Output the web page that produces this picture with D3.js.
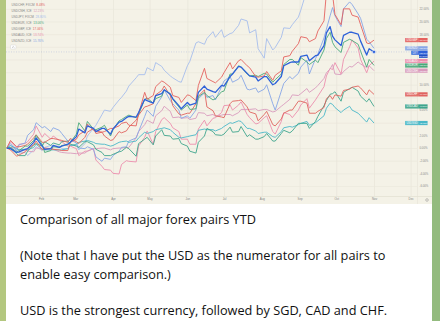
<!DOCTYPE html>
<html>
<head>
<meta charset="utf-8">
<script src="https://cdnjs.cloudflare.com/ajax/libs/d3/7.8.5/d3.min.js"></script>
<style>
  html, body { margin: 0; padding: 0; background: #a9c47c; }
  svg { display: block; }
</style>
</head>
<body>
<div id="chart"></div>
<script>
// twice-weekly closes, % change since first bar of the year
var dates = ["2022-01-04","2022-01-07","2022-01-12","2022-01-14","2022-01-19","2022-01-21","2022-01-26","2022-01-28",
  "2022-02-02","2022-02-04","2022-02-09","2022-02-11","2022-02-16","2022-02-18","2022-02-23","2022-02-25",
  "2022-03-02","2022-03-04","2022-03-09","2022-03-11","2022-03-16","2022-03-18","2022-03-23","2022-03-25","2022-03-30",
  "2022-04-01","2022-04-06","2022-04-08","2022-04-12","2022-04-14","2022-04-20","2022-04-22","2022-04-27","2022-04-29",
  "2022-05-04","2022-05-06","2022-05-11","2022-05-13","2022-05-18","2022-05-20","2022-05-25","2022-05-27",
  "2022-06-01","2022-06-03","2022-06-08","2022-06-10","2022-06-15","2022-06-17","2022-06-22","2022-06-24","2022-06-29",
  "2022-07-01","2022-07-06","2022-07-08","2022-07-13","2022-07-15","2022-07-20","2022-07-22","2022-07-27","2022-07-29",
  "2022-08-03","2022-08-05","2022-08-10","2022-08-12","2022-08-17","2022-08-19","2022-08-24","2022-08-26","2022-08-31",
  "2022-09-02","2022-09-07","2022-09-09","2022-09-14","2022-09-16","2022-09-21","2022-09-23","2022-09-26","2022-09-28","2022-09-30",
  "2022-10-05","2022-10-07","2022-10-12","2022-10-14","2022-10-19","2022-10-21","2022-10-26","2022-10-28","2022-11-01"];

var dxy = [0,-0.1,-0.7,-0.6,-0.2,-0.1,0.9,1.6,
  0.3,-0.2,-0.1,0.4,0.1,0.3,0.6,0.9,
  1.8,3.0,2.4,3.5,3.1,2.6,3.1,3.1,2.2,
  3.0,4.1,4.2,4.8,5.0,4.9,5.6,7.7,7.5,
  7.1,8.3,8.6,9.2,8.5,7.8,6.7,6.2,
  7.2,6.8,7.1,8.8,9.8,9.3,8.9,8.8,9.9,
  9.8,11.3,11.7,12.9,12.8,11.8,11.4,11.2,10.6,
  11.3,11.3,10.0,10.2,11.3,13.0,13.5,13.6,13.6,
  14.5,14.7,13.8,14.6,14.7,16.2,18.2,19.2,17.7,17.1,
  16.2,17.8,18.3,18.3,18.0,16.9,14.7,15.7,15.19];
var usdjpy = [0,0.4,-0.4,-0.8,-0.7,-1.2,-0.3,0.2,
  -0.4,0.1,0.4,0.3,0.3,-0.1,-0.1,0.4,
  0.4,-0.3,0.7,1.9,3.1,3.6,5.3,6.0,5.8,
  6.4,7.6,8.0,9.0,9.8,11.1,11.6,11.6,12.7,
  12.2,13.5,12.9,12.3,11.4,11.1,10.5,10.4,
  13.0,13.7,16.6,16.8,16.4,17.3,18.4,17.5,18.7,
  17.5,18.1,18.2,19.4,20.4,20.1,18.2,18.7,15.7,
  14.2,17.3,15.5,15.9,17.5,19.0,18.9,19.5,20.7,
  21.8,25.0,23.9,24.4,24.2,25.3,24.6,25.7,25.3,25.7,
  25.7,26.2,27.7,29.2,30.2,28.2,27.1,28.1,28.8];
var usdnzd = [0,0.7,-0.4,0.5,0.8,2.0,2.9,4.0,
  3.2,3.4,2.6,3.2,2.8,2.3,1.1,1.3,
  0.8,0.0,-0.1,0.2,-0.2,-1.4,-2.1,-1.6,-1.8,
  -1.2,-0.5,0.1,0.2,1.1,1.6,2.6,5.0,6.0,
  5.0,6.6,8.1,9.2,7.5,7.0,6.0,4.7,
  5.1,4.7,6.0,7.8,8.7,8.0,8.3,7.6,9.7,
  10.6,11.3,10.4,10.9,11.5,9.3,9.2,9.5,8.8,
  9.3,10.0,7.0,6.0,9.0,10.2,11.3,10.9,11.8,
  12.8,13.9,11.7,14.1,14.9,17.4,18.8,20.9,22.2,20.9,
  19.2,22.0,23.1,22.7,21.2,20.5,17.2,16.8,15.76];
var usdgbp = [0,-0.3,-1.3,-1.1,-0.6,-0.1,0.5,1.1,
  -0.3,0.0,-0.1,-0.2,-0.3,-0.4,-0.4,0.9,
  1.4,2.1,2.7,3.8,2.8,2.7,2.5,2.6,3.1,
  3.1,3.5,3.9,4.1,3.6,3.5,5.4,8.8,7.7,
  8.3,9.7,10.6,10.4,9.6,8.3,8.0,7.2,
  8.4,8.3,7.5,9.9,12.6,11.0,10.5,10.3,11.2,
  11.9,13.5,12.5,13.8,14.0,13.0,12.7,11.3,11.2,
  11.4,12.1,10.7,11.5,12.2,14.4,14.6,15.3,16.5,
  17.6,17.4,16.8,17.3,18.5,20.1,24.6,26.6,24.3,21.1,
  19.5,22.0,22.0,21.0,20.7,19.5,16.6,16.5,17.06];
var usdeur = [0,0.1,-0.6,-0.4,0.3,0.3,1.2,2.0,
  0.6,-0.7,-0.4,0.2,0.1,0.4,0.5,0.9,
  2.2,4.0,2.7,4.2,3.0,2.9,3.3,3.6,1.9,
  2.9,4.3,4.5,5.0,5.2,4.8,5.3,7.7,7.9,
  7.1,7.8,8.2,9.2,8.6,7.7,6.5,6.0,
  6.8,6.1,6.2,8.1,8.8,8.3,7.6,7.8,8.9,
  9.0,11.7,11.7,13.0,12.8,11.7,11.4,11.5,11.3,
  11.8,11.7,10.4,10.8,11.7,13.2,14.0,14.0,13.1,
  14.3,13.6,13.2,13.9,13.5,15.5,17.3,18.3,16.7,16.0,
  15.1,16.7,17.2,17.0,16.4,15.3,12.8,14.0,13.06];
var usdaud = [0,1.0,0.0,0.6,0.7,1.0,2.2,3.5,
  1.7,2.3,1.4,1.9,1.2,1.0,0.3,0.3,
  -0.1,-1.2,-0.5,-0.5,-0.1,-1.9,-2.9,-3.4,-3.5,
  -4.0,-4.1,-2.6,-2.0,-2.1,-2.2,0.3,1.7,2.7,
  0.6,2.6,4.5,4.8,3.9,3.2,2.6,1.4,
  1.4,0.6,0.6,3.0,4.4,3.5,4.7,4.8,5.6,
  6.7,6.8,6.0,6.8,7.3,5.3,4.8,3.8,3.9,
  4.8,5.1,2.6,2.2,4.2,5.6,5.3,4.8,6.0,
  6.8,7.8,6.3,7.6,8.2,9.7,11.4,12.6,12.4,13.5,
  11.7,14.0,16.0,17.1,15.8,14.0,11.9,13.0,13.74];
var usdcnh = [0,0.1,0.0,-0.3,-0.3,-0.5,-0.6,0.0,
  -0.1,-0.1,-0.2,-0.2,-0.6,-0.7,-0.8,-0.8,
  -0.9,-0.8,-0.8,-0.5,-0.1,-0.1,0.0,0.0,-0.3,
  -0.1,0.0,0.0,0.1,0.1,1.6,2.6,3.7,4.4,
  3.9,5.1,5.9,6.6,5.8,4.8,4.9,4.7,
  4.8,4.5,4.7,5.6,5.5,5.1,5.3,5.0,5.2,
  5.3,5.3,5.1,5.6,6.1,6.1,6.1,6.2,5.9,
  6.1,6.1,5.7,5.8,6.6,6.9,7.7,8.4,8.3,
  8.6,9.4,8.8,9.5,9.9,11.0,11.9,12.5,13.2,11.7,
  11.6,12.1,12.9,12.8,13.6,13.3,12.7,13.0,12.23];
var usdchf = [0,1.2,0.2,0.2,0.4,0.6,1.6,2.1,
  0.9,0.9,1.5,1.5,1.3,1.2,0.9,1.5,
  1.0,0.7,1.7,2.5,3.1,2.3,2.5,1.9,1.2,
  1.3,2.6,2.4,2.7,3.3,4.4,5.2,6.5,6.6,
  7.0,8.4,9.1,9.8,8.3,6.7,5.4,5.2,
  5.5,5.5,7.0,8.2,9.2,6.5,5.9,5.1,4.9,
  4.8,7.0,7.4,7.5,7.6,6.5,5.7,5.4,4.3,
  5.3,5.8,3.7,3.5,4.6,5.5,6.0,6.0,7.4,
  7.4,7.1,5.5,5.5,5.8,6.4,7.8,8.3,7.7,8.4,
  8.2,9.1,9.3,9.6,9.8,9.5,8.4,9.2,8.48];
var usdcad = [0,0.0,-0.9,-1.2,-1.2,-0.5,0.5,0.7,
  0.3,1.0,0.4,0.8,0.5,1.0,1.1,0.6,
  0.3,0.1,1.0,1.0,0.5,-0.2,-0.7,-1.2,-1.2,
  -1.0,-0.6,-0.5,0.1,-0.1,-1.3,0.7,1.4,1.7,
  0.5,1.9,2.9,2.0,1.9,1.4,1.5,0.7,
  0.3,-0.5,-0.8,0.9,1.9,3.1,2.6,2.1,2.0,
  2.2,3.3,2.5,2.6,3.4,1.8,2.1,1.4,1.4,
  1.8,2.3,1.1,1.1,2.3,2.8,2.4,2.7,3.9,
  3.9,3.9,3.1,4.2,5.0,6.7,7.5,8.5,8.6,8.9,
  7.4,8.8,9.4,9.6,9.0,8.2,7.3,7.8,6.57];
var usdsgd = [0,0.4,-0.1,-0.3,-0.2,-0.3,0.1,0.6,
  -0.2,-0.3,-0.3,-0.3,-0.3,-0.3,-0.1,0.4,
  0.6,0.9,1.1,1.2,0.9,0.7,0.6,0.6,0.3,
  0.4,0.9,1.0,1.1,0.9,1.1,1.6,2.5,2.3,
  2.6,2.9,3.1,3.2,2.9,2.5,1.7,1.6,
  1.8,1.9,2.1,2.8,3.0,2.9,2.9,2.7,3.1,
  3.4,4.0,3.9,4.3,4.2,3.1,3.1,2.7,2.3,
  2.5,2.5,1.8,1.7,2.6,3.2,3.4,3.3,3.7,
  3.9,4.2,3.6,4.0,4.3,5.1,6.3,7.1,6.9,6.4,
  5.6,6.0,6.6,6.0,5.5,5.1,4.1,4.8,3.95];

var pairNames  = ["USDJPY","USDAUD","USDCNH","USDNZD","USDSGD","USDCAD","USDCHF","USDEUR","USDGBP","DXY"];
var pairValues = [usdjpy, usdaud, usdcnh, usdnzd, usdsgd, usdcad, usdchf, usdeur, usdgbp, dxy];
var pairColors = ["#a6bdec","#ec8fae","#d99bbd","#87a6e6","#49b8c8","#3ea58c","#e0635f","#4aa97a","#e4625f","#2e62d9"];

var legendNames = ["USDCHF, FXCM","USDCNH, ICE","USDJPY, FXCM","USDEUR, ICE","USDGBP, ICE","USDAUD, ICE","USDNZD, ICE"];
var monthLabels = ["Feb","Mar","Apr","May","Jun","Jul","Aug","Sep","Oct","Nov","Dec"];
var percentTicks = [-6,-4,-2,0,2,4,6,8,10,12,14,16,18,20,22];

var captionLines = ["Comparison of all major forex pairs YTD",
  "",
  "(Note that I have put the USD as the numerator for all pairs to",
  "enable easy comparison.)",
  "",
  "USD is the strongest currency, followed by SGD, CAD and CHF."];

function init(){

    var W = 440, H = 321;
    var plotRight = 417, plotBottom = 196, chartBottom = 204;

    var parse = d3.timeParse("%Y-%m-%d");
    var days = dates.map(parse);

    var x = d3.scaleTime()
              .domain([new Date(2022,0,1), new Date(2022,11,1)])
              .range([3.2, 410.6]);
    var y = d3.scaleLinear()
              .domain([-7, 23.4])
              .range([192.3, 0]);

    var svg = d3.select("#chart")
                .append("svg")
                .attr("width", W)
                .attr("height", H);

    // wallpaper strips + message bubble
    svg.append("rect").attr("x",0).attr("y",0).attr("width",W).attr("height",H).attr("fill","#a9c47c");
    svg.append("rect").attr("x",0).attr("y",0).attr("width",6).attr("height",H).attr("fill","#b3c77f");
    svg.append("rect").attr("x",432).attr("y",0).attr("width",8).attr("height",H).attr("fill","#93bb7e");
    svg.append("rect").attr("x",6).attr("y",0).attr("width",426).attr("height",H).attr("fill","#ffffff");
    svg.append("rect").attr("x",6).attr("y",0).attr("width",426).attr("height",chartBottom).attr("fill","#f4f2e7");

    svg.append("clipPath").attr("id","plotclip")
       .append("rect").attr("x",6).attr("y",0).attr("width",plotRight-6).attr("height",plotBottom);

    // grid
    var monthTicks = d3.range(1,12).map(function(m){ return new Date(2022,m,1); });
    svg.append("g")
       .attr("class","xgrid")
       .attr("transform","translate(0," + plotBottom + ")")
       .call(d3.axisBottom(x).tickValues(monthTicks).tickSize(-plotBottom).tickFormat(""))
       .call(function(g){ g.select(".domain").remove(); })
       .selectAll("line").attr("stroke","#e6e3d6").attr("stroke-width",0.6);

    svg.append("g")
       .attr("class","ygrid")
       .attr("transform","translate(" + plotRight + ",0)")
       .call(d3.axisLeft(y).tickValues(percentTicks).tickSize(plotRight-6).tickFormat(""))
       .call(function(g){ g.select(".domain").remove(); })
       .selectAll("line").attr("stroke","#e9e6da").attr("stroke-width",0.6);

    svg.append("line").attr("x1",6).attr("x2",432).attr("y1",plotBottom+0.5).attr("y2",plotBottom+0.5)
       .attr("stroke","#dedbcd").attr("stroke-width",0.6);
    svg.append("line").attr("x1",plotRight+0.5).attr("x2",plotRight+0.5).attr("y1",0).attr("y2",chartBottom)
       .attr("stroke","#e4e1d4").attr("stroke-width",0.5);

    // lines
    var line = d3.line()
                 .x(function(d, i){ return x(days[i]); })
                 .y(function(d){ return y(d); });

    var plot = svg.append("g").attr("clip-path","url(#plotclip)");

    var last = pairValues.length - 1;
    plot.append("line")
        .attr("x1",6).attr("x2",plotRight)
        .attr("y1",y(dxy[dxy.length-1])).attr("y2",y(dxy[dxy.length-1]))
        .attr("stroke","#7f98d8").attr("stroke-width",0.5).attr("stroke-dasharray","1,1.5")
        .attr("opacity",0.6);

    plot.selectAll("path.pair")
        .data(pairValues)
        .enter()
        .append("path")
        .attr("class","pair")
        .attr("d", line)
        .attr("fill","none")
        .attr("stroke", function(d, i){ return pairColors[i]; })
        .attr("stroke-width", function(d, i){ return i == last ? 1.3 : 0.9; })
        .attr("stroke-linejoin","round");

    plot.append("circle")
        .attr("cx", x(days[days.length-1]))
        .attr("cy", y(dxy[dxy.length-1]))
        .attr("r", 1.6)
        .attr("fill", pairColors[last])
        .attr("stroke","#ffffff").attr("stroke-width",0.5);

    // end-of-line tags (skip series that run off the top)
    var tags = [];
    pairValues.forEach(function(v, i){
        var end = v[v.length-1];
        if (end < y.domain()[1]) {
            tags.push({name: pairNames[i], value: end, color: pairColors[i], ty: y(end)});
        }
    });
    tags.sort(function(a, b){ return a.ty - b.ty; });
    for (var k = 1; k < tags.length; k++) {
        if (tags[k].ty - tags[k-1].ty < 4.4) tags[k].ty = tags[k-1].ty + 4.4;
    }

    // price scale labels, hidden where a tag sits on top
    var yAxis = svg.append("g")
       .attr("transform","translate(419.5,0)")
       .call(d3.axisRight(y).tickValues(percentTicks).tickSize(0)
             .tickFormat(function(d){ return d.toFixed(2) + "%"; }));
    yAxis.select(".domain").remove();
    yAxis.selectAll("text")
         .attr("x",0)
         .attr("font-family","Liberation Sans, Arial, sans-serif")
         .attr("font-size","2.8px")
         .attr("fill","#8a8a8a")
         .attr("text-anchor","start")
         .style("display", function(d){
             var yy = y(d);
             var hit = tags.some(function(t){ return Math.abs(t.ty - yy) < 3.4; });
             return hit ? "none" : null;
         });

    var tagG = svg.selectAll("g.tag")
                  .data(tags)
                  .enter()
                  .append("g")
                  .attr("class","tag")
                  .attr("transform", function(d){ return "translate(0," + d.ty + ")"; });

    tagG.append("rect")
        .attr("x", function(d){ return 419 - (d.name.length*2.05 + 1.6); })
        .attr("y", -2.1)
        .attr("width", function(d){ return d.name.length*2.05 + 1.6; })
        .attr("height", 4.2)
        .attr("fill", function(d){ return d.color; })
        .attr("opacity", 0.9);
    tagG.append("rect")
        .attr("x", 419)
        .attr("y", -2.1)
        .attr("width", 8.6)
        .attr("height", 4.2)
        .attr("fill", function(d){ return d.color; });
    tagG.append("text")
        .attr("x", function(d){ return 419 - (d.name.length*2.05 + 1.6)/2; })
        .attr("y", 0.9)
        .attr("text-anchor","middle")
        .attr("font-family","Liberation Sans, Arial, sans-serif")
        .attr("font-size","2.6px")
        .attr("fill","#ffffff")
        .text(function(d){ return d.name; });
    tagG.append("text")
        .attr("x", 423.3)
        .attr("y", 0.9)
        .attr("text-anchor","middle")
        .attr("font-family","Liberation Sans, Arial, sans-serif")
        .attr("font-size","2.4px")
        .attr("fill","#ffffff")
        .text(function(d){ return "+" + d.value.toFixed(2) + "%"; });

    // DXY countdown strip under its price tag
    var dxyTag = tags.filter(function(t){ return t.name == "DXY"; })[0];
    svg.append("rect").attr("x",419).attr("y",dxyTag.ty+2.1).attr("width",8.6).attr("height",3)
       .attr("fill","#1f4fc4");
    svg.append("text").attr("x",423.3).attr("y",dxyTag.ty+4.2).attr("text-anchor","middle")
       .attr("font-family","Liberation Sans, Arial, sans-serif").attr("font-size","2.2px")
       .attr("fill","#ffffff").text("10:45:10");

    // time axis
    var xAxis = svg.append("g")
       .attr("transform","translate(0," + plotBottom + ")")
       .call(d3.axisBottom(x).tickValues(monthTicks).tickSize(0)
             .tickFormat(function(d, i){ return monthLabels[i]; }));
    xAxis.select(".domain").remove();
    xAxis.selectAll("text")
         .attr("y", 3)
         .attr("dy", "0.35em")
         .attr("font-family","Liberation Sans, Arial, sans-serif")
         .attr("font-size","2.9px")
         .attr("fill","#858585");

    svg.append("circle").attr("cx",427).attr("cy",200).attr("r",1.3)
       .attr("fill","none").attr("stroke","#8c8c8c").attr("stroke-width",0.5);

    // legend
    var legendSeries = ["USDCHF","USDCNH","USDJPY","USDEUR","USDGBP","USDAUD","USDNZD"];
    var legendRows = svg.selectAll("g.legend")
        .data(legendNames)
        .enter()
        .append("g")
        .attr("class","legend")
        .attr("transform", function(d, i){ return "translate(11.5," + (6 + i*6) + ")"; });

    var legendLabels = legendRows.append("text")
        .attr("font-family","Liberation Sans, Arial, sans-serif")
        .attr("font-size","3.1px")
        .attr("fill","#888888")
        .text(function(d){ return d; });
    var labelW = legendLabels.nodes().map(function(n){ return n.getComputedTextLength(); });

    legendRows.append("text")
        .attr("x", function(d, i){ return labelW[i] + 1.8; })
        .attr("font-family","Liberation Sans, Arial, sans-serif")
        .attr("font-size","3.1px")
        .attr("fill", function(d, i){ return pairColors[pairNames.indexOf(legendSeries[i])]; })
        .text(function(d, i){
            var v = pairValues[pairNames.indexOf(legendSeries[i])];
            return v[v.length-1].toFixed(2) + "%";
        });

    svg.append("rect").attr("x",10.5).attr("y",45).attr("width",5.5).attr("height",4).attr("rx",0.8)
       .attr("fill","#ffffff").attr("stroke","#cfcfcf").attr("stroke-width",0.4);
    svg.append("path").attr("d","M12 47.8 L13.25 46.6 L14.5 47.8")
       .attr("fill","none").attr("stroke","#777").attr("stroke-width",0.4);

    // caption text under the picture
    var caption = svg.append("g").attr("class","caption");
    var baselines = [224, 242, 260, 279, 297, 315];
    caption.selectAll("text")
        .data(captionLines)
        .enter()
        .append("text")
        .attr("x", 20)
        .attr("y", function(d, i){ return baselines[i]; })
        .attr("font-family","Open Sans, sans-serif")
        .attr("font-size","13px")
        .attr("fill","#111111")
        .text(function(d){ return d; });

    // fit font size to the width of the longest line in the reference
    var probe = caption.selectAll("text").nodes()[2];
    var len = probe.getComputedTextLength();
    var fs = 13 * 366 / len;
    caption.selectAll("text").attr("font-size", fs + "px");
}

window.onload = init;
</script>
</body>
</html>
